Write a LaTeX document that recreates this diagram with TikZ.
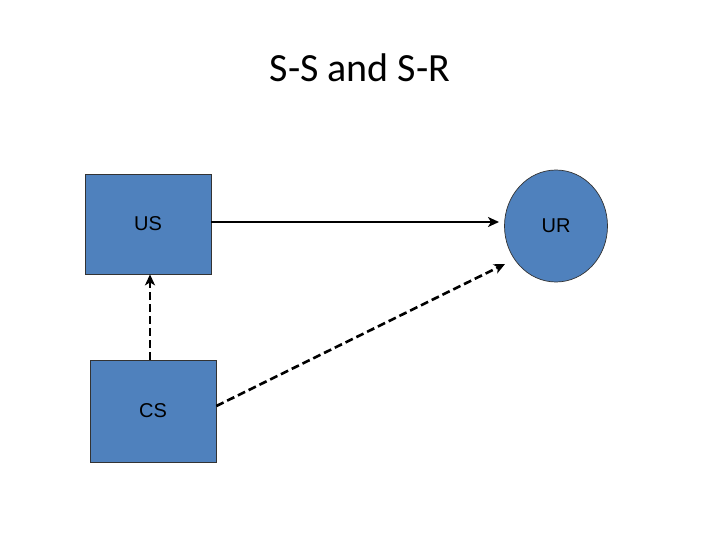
\documentclass[tikz,border=0pt]{standalone}
\usepackage{fontspec}
\setmainfont{Carlito}
\newfontfamily\arialfont{Liberation Sans}
\usetikzlibrary{arrows.meta,shapes.geometric}
\definecolor{boxblue}{HTML}{4F81BD}
\begin{document}
\begin{tikzpicture}[x=1pt,y=-1pt,
  blk/.style={draw=black!80,line width=0.7pt,fill=boxblue,inner sep=0pt,font=\arialfont\fontsize{20}{24}\selectfont},
  conn/.style={line width=2.6pt,-{Stealth[length=11pt,width=10pt,inset=3pt]}},
  dconn/.style={conn,dash pattern=on 8pt off 4pt}]
\useasboundingbox (0,0) rectangle (720,540);
\node[font=\fontsize{40}{48}\selectfont] (title) at (360,68) {S-S and S-R};
\node[blk,minimum width=126pt,minimum height=100pt] (US) at (148,224) {US};
\node[blk,minimum width=126pt,minimum height=102pt] (CS) at (153,411) {CS};
\node[blk,ellipse,minimum width=103pt,minimum height=112pt] (UR) at (556,226) {UR};
\coordinate (urin) at (505,264);
\coordinate (urleft) at (499,222);
\draw[conn] (US.east |- urleft) -- (urleft);
\draw[dconn] (CS.north -| 150,0) -- (US.south -| 150,0);
\draw[dconn] (CS.east |- 0,406) -- (urin);
\end{tikzpicture}
\end{document}
